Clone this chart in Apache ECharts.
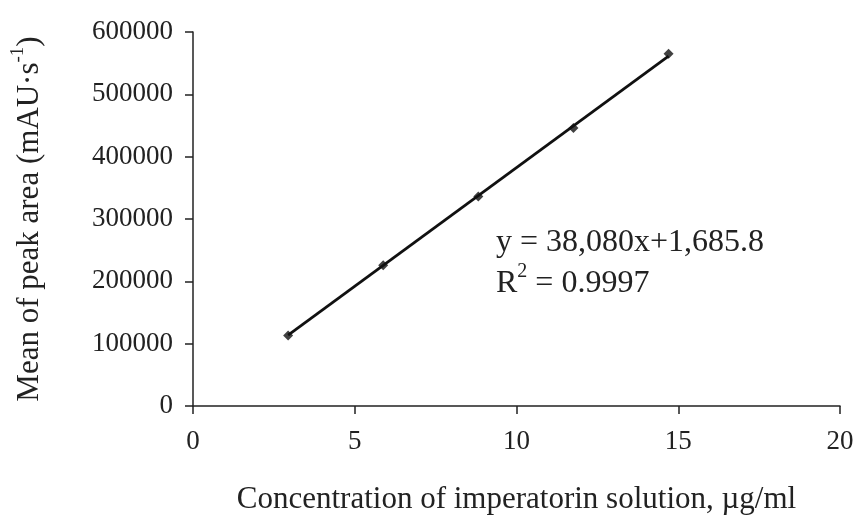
<!DOCTYPE html>
<html>
<head>
<meta charset="utf-8">
<script src="https://cdn.jsdelivr.net/npm/echarts@6/dist/echarts.min.js"></script>
<style>
html,body{margin:0;padding:0;background:#fff;}
#chart{width:857px;height:524px;}
</style>
</head>
<body>
<div id="chart"></div>
<script>
// Data
var concentrations = [2.94, 5.88, 8.82, 11.76, 14.7];
var peakAreas = [113000, 226000, 336000, 446000, 565000];
var slope = 38080;
var intercept = 1685.8;
var rSquared = '0.9997';
var xTicks = [0, 5, 10, 15, 20];
var yTicks = [0, 100000, 200000, 300000, 400000, 500000, 600000];
var xTitle = 'Concentration of imperatorin solution, \u00b5g/ml';
var yTitle = 'Mean of peak area (mAU\u00b7s';

var points = concentrations.map(function (x, i) { return [x, peakAreas[i]]; });
var trendX = [concentrations[0], concentrations[concentrations.length - 1]];
var trend = trendX.map(function (x) { return [x, slope * x + intercept]; });

function fmtThousands(v) {
  var parts = String(v).split('.');
  parts[0] = parts[0].replace(/\B(?=(\d{3})+(?!\d))/g, ',');
  return parts.join('.');
}

var FONT = '"Liberation Serif", "Times New Roman", serif';
var chart = echarts.init(document.getElementById('chart'));
chart.setOption({
  backgroundColor: '#ffffff',
  animation: false,
  grid: { left: 193, right: 17, top: 32, bottom: 118, containLabel: false },
  xAxis: {
    type: 'value',
    min: xTicks[0], max: xTicks[xTicks.length - 1], interval: 5,
    splitLine: { show: false },
    axisLine: { show: true, onZero: false, lineStyle: { color: '#222', width: 1.5 } },
    axisTick: { show: true, inside: false, length: 8, lineStyle: { color: '#222', width: 1.5 } },
    axisLabel: { color: '#222', fontFamily: FONT, fontSize: 27, margin: 22, formatter: function (v) { return String(v); } },
    name: xTitle,
    nameLocation: 'middle',
    nameGap: 78,
    nameTextStyle: { color: '#222', fontFamily: FONT, fontSize: 31 }
  },
  yAxis: {
    type: 'value',
    min: yTicks[0], max: yTicks[yTicks.length - 1], interval: 100000,
    splitLine: { show: false },
    axisLine: { show: true, lineStyle: { color: '#222', width: 1.5 } },
    axisTick: { show: true, inside: false, length: 8, lineStyle: { color: '#222', width: 1.5 } },
    axisLabel: { color: '#222', fontFamily: FONT, fontSize: 27, margin: 20, formatter: function (v) { return String(v); } },
    name: '{t|' + yTitle + '}{s|-1}{t|)}',
    nameLocation: 'middle',
    nameGap: 148,
    nameRotate: 90,
    nameTextStyle: {
      color: '#222', fontFamily: FONT, fontSize: 31,
      rich: {
        t: { fontFamily: FONT, fontSize: 31, color: '#222', lineHeight: 36, verticalAlign: 'bottom' },
        s: { fontFamily: FONT, fontSize: 19, color: '#222', lineHeight: 36, verticalAlign: 'top' }
      }
    }
  },
  series: [
    {
      type: 'line',
      data: trend,
      symbol: 'none',
      lineStyle: { color: '#111', width: 2.8 },
      silent: true,
      z: 2
    },
    {
      type: 'scatter',
      data: points,
      symbol: 'diamond',
      symbolSize: 10,
      itemStyle: { color: '#111' },
      z: 3
    }
  ],
  graphic: [
    {
      type: 'text',
      left: 496, top: 227,
      style: {
        text: 'y = ' + fmtThousands(slope) + 'x+' + fmtThousands(intercept),
        font: '32px ' + FONT,
        fill: '#222'
      }
    },
    {
      type: 'text',
      left: 496, top: 262,
      style: {
        text: '{r|R}{s|2}{r| = ' + rSquared + '}',
        font: '32px ' + FONT,
        fill: '#222',
        rich: {
          r: { fontFamily: FONT, fontSize: 32, fill: '#222', lineHeight: 38, verticalAlign: 'bottom' },
          s: { fontFamily: FONT, fontSize: 20, fill: '#222', lineHeight: 38, verticalAlign: 'top' }
        }
      }
    }
  ]
});
</script>
</body>
</html>
